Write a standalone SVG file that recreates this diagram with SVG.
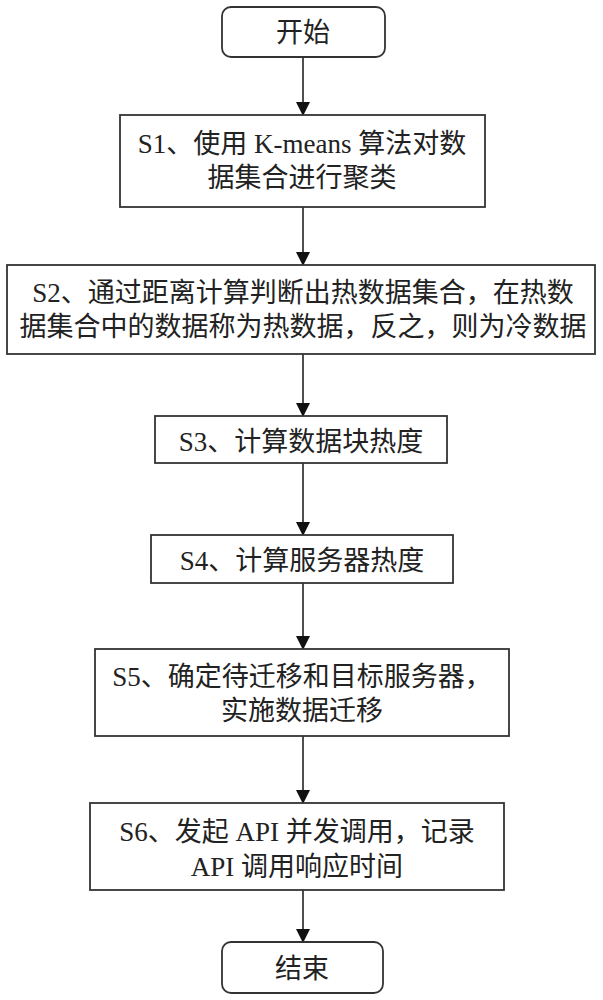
<svg xmlns="http://www.w3.org/2000/svg" width="603" height="1000" viewBox="0 0 603 1000">
<defs>
<marker id="arr" markerUnits="userSpaceOnUse" markerWidth="14" markerHeight="14" viewBox="0 0 14 14" refX="13" refY="7" orient="auto">
<path d="M0,0 L14,7 L0,14 Z" fill="#111"/>
</marker>
<style>
.box{fill:#fff;stroke:#333;stroke-width:1.8}
.t{font-family:"Liberation Serif","Noto Sans CJK SC",serif;font-size:27px;fill:#222;text-anchor:middle;dominant-baseline:central}
.c{stroke:#222;stroke-width:1.6;fill:none;marker-end:url(#arr)}
</style>
</defs>
<rect width="603" height="1000" fill="#fff"/>
<g id="connectors">
<line class="c" x1="303" y1="57" x2="303" y2="115"/>
<line class="c" x1="303" y1="207" x2="303" y2="265"/>
<line class="c" x1="303" y1="354" x2="303" y2="416"/>
<line class="c" x1="303" y1="463" x2="303" y2="535"/>
<line class="c" x1="303" y1="583" x2="303" y2="649"/>
<line class="c" x1="303" y1="736" x2="303" y2="803"/>
<line class="c" x1="303" y1="890" x2="303" y2="942"/>
</g>
<g id="start">
<rect class="box" x="222" y="7" width="163" height="50" rx="9"/>
<text class="t" x="303" y="33">开始</text>
</g>
<g id="s1">
<rect class="box" x="120" y="115" width="365" height="92"/>
<text class="t" x="302" y="144">S1、使用 K-means 算法对数</text>
<text class="t" x="302" y="178">据集合进行聚类</text>
</g>
<g id="s2">
<rect class="box" x="7" y="265" width="588" height="89"/>
<text class="t" x="303" y="293">S2、通过距离计算判断出热数据集合，在热数</text>
<text class="t" x="303" y="327">据集合中的数据称为热数据，反之，则为冷数据</text>
</g>
<g id="s3">
<rect class="box" x="155" y="416" width="292" height="47"/>
<text class="t" x="301" y="442">S3、计算数据块热度</text>
</g>
<g id="s4">
<rect class="box" x="151" y="535" width="302" height="48"/>
<text class="t" x="302" y="561">S4、计算服务器热度</text>
</g>
<g id="s5">
<rect class="box" x="95" y="649" width="414" height="87"/>
<text class="t" x="302" y="677">S5、确定待迁移和目标服务器，</text>
<text class="t" x="302" y="711">实施数据迁移</text>
</g>
<g id="s6">
<rect class="box" x="90" y="803" width="414" height="87"/>
<text class="t" x="297" y="832">S6、发起 API 并发调用，记录</text>
<text class="t" x="297" y="867">API 调用响应时间</text>
</g>
<g id="end">
<rect class="box" x="222" y="942" width="161" height="51" rx="9"/>
<text class="t" x="302" y="969">结束</text>
</g>
</svg>
